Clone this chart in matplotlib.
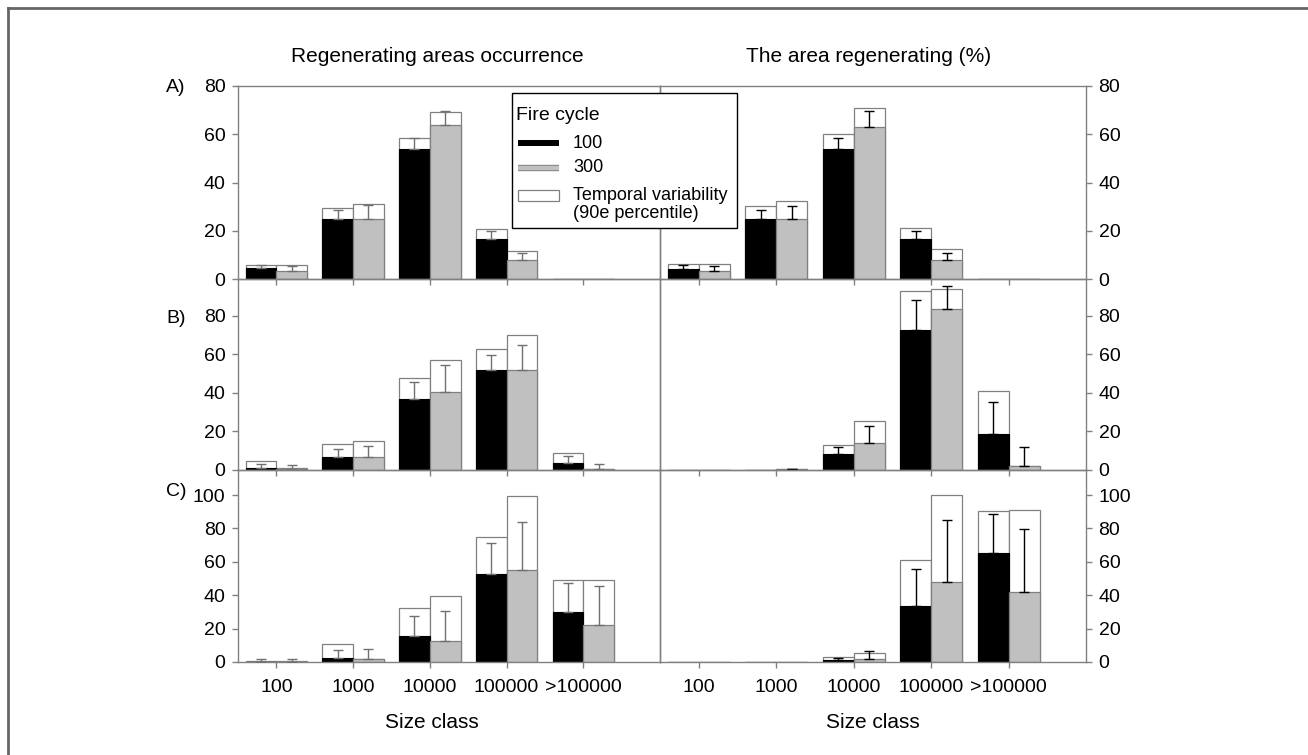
import matplotlib
matplotlib.use("Agg")
import matplotlib.pyplot as plt
import matplotlib.patheffects as pe
from matplotlib.lines import Line2D
from matplotlib.patches import Rectangle
import numpy as np

plt.rcParams['font.family'] = ['Liberation Sans', 'DejaVu Sans']

# ---------------- data ----------------
categories = ['100', '1000', '10000', '100000', '>100000']

# Row A - regenerating areas occurrence
A_occ_mean_100 = [4.6, 24.7, 53.8, 16.7, 0.2]
A_occ_err_100 = [5.8, 28.8, 58.3, 19.9, 0.2]
A_occ_p90_100 = [5.8, 29.4, 58.3, 20.6, 0.2]
A_occ_mean_300 = [3.2, 24.8, 63.7, 7.9, 0.0]
A_occ_err_300 = [5.2, 30.6, 69.8, 10.8, 0.0]
A_occ_p90_300 = [5.8, 31.0, 69.1, 11.6, 0.0]

# Row A - area regenerating (%)
A_area_mean_100 = [4.3, 24.7, 53.8, 16.7, 0.2]
A_area_err_100 = [5.8, 28.8, 58.3, 19.9, 0.2]
A_area_p90_100 = [6.2, 30.2, 60.0, 21.1, 0.2]
A_area_mean_300 = [3.2, 24.8, 63.2, 7.9, 0.0]
A_area_err_300 = [5.2, 30.2, 69.8, 10.8, 0.0]
A_area_p90_300 = [6.2, 32.3, 71.0, 12.3, 0.0]

# Row B - occurrence
B_occ_mean_100 = [1.2, 6.8, 36.9, 51.8, 3.6]
B_occ_err_100 = [2.9, 11.1, 45.5, 59.6, 7.1]
B_occ_p90_100 = [4.5, 13.7, 47.6, 62.7, 8.7]
B_occ_mean_300 = [0.7, 6.6, 40.3, 51.9, 0.5]
B_occ_err_300 = [2.4, 12.3, 54.4, 64.6, 2.9]
B_occ_p90_300 = [0.8, 14.9, 57.0, 70.0, 0.5]

# Row B - area
B_area_mean_100 = [0.0, 0.2, 8.3, 72.6, 18.6]
B_area_err_100 = [0.0, 0.2, 12.1, 88.1, 35.0]
B_area_p90_100 = [0.0, 0.2, 13.1, 92.8, 40.7]
B_area_mean_300 = [0.0, 0.3, 13.8, 83.4, 2.2]
B_area_err_300 = [0.0, 0.7, 22.9, 95.3, 11.7]
B_area_p90_300 = [0.0, 0.3, 25.2, 94.0, 2.2]

# Row C - occurrence
C_occ_mean_100 = [0.2, 2.2, 15.4, 53.0, 30.2]
C_occ_err_100 = [2.0, 7.0, 27.8, 71.4, 47.4]
C_occ_p90_100 = [0.3, 10.8, 32.6, 74.8, 49.4]
C_occ_mean_300 = [0.2, 2.0, 12.8, 55.4, 22.0]
C_occ_err_300 = [2.0, 8.0, 30.8, 84.0, 45.6]
C_occ_p90_300 = [0.3, 2.0, 39.8, 99.2, 49.4]

# Row C - area
C_area_mean_100 = [0.0, 0.0, 1.0, 33.5, 65.0]
C_area_err_100 = [0.0, 0.0, 2.4, 56.0, 88.4]
C_area_p90_100 = [0.0, 0.0, 3.0, 61.0, 90.2]
C_area_mean_300 = [0.0, 0.0, 2.0, 48.1, 41.7]
C_area_err_300 = [0.0, 0.0, 6.8, 84.8, 79.4]
C_area_p90_300 = [0.0, 0.0, 5.6, 99.8, 91.2]

row_labels = ['A)', 'B)', 'C)']
col_titles = ['Regenerating areas occurrence', 'The area regenerating (%)']
xlabel = 'Size class'
legend_title = 'Fire cycle'
legend_labels = ['100', '300', 'Temporal variability', '(90e percentile)']

panels = [
    [(A_occ_mean_100, A_occ_err_100, A_occ_p90_100, A_occ_mean_300, A_occ_err_300, A_occ_p90_300),
     (A_area_mean_100, A_area_err_100, A_area_p90_100, A_area_mean_300, A_area_err_300, A_area_p90_300)],
    [(B_occ_mean_100, B_occ_err_100, B_occ_p90_100, B_occ_mean_300, B_occ_err_300, B_occ_p90_300),
     (B_area_mean_100, B_area_err_100, B_area_p90_100, B_area_mean_300, B_area_err_300, B_area_p90_300)],
    [(C_occ_mean_100, C_occ_err_100, C_occ_p90_100, C_occ_mean_300, C_occ_err_300, C_occ_p90_300),
     (C_area_mean_100, C_area_err_100, C_area_p90_100, C_area_mean_300, C_area_err_300, C_area_p90_300)],
]
row_ylims = [(0, 80), (0, 99), (0, 115)]
row_yticks = [[0, 20, 40, 60, 80], [0, 20, 40, 60, 80], [0, 20, 40, 60, 80, 100]]

# ---------------- layout ----------------
W, H = 1308, 755
fig = plt.figure(figsize=(W / 100, H / 100), dpi=100)


def fx(x):
    return x / W


def fy(y):
    return 1 - y / H


rows_px = [(86, 279), (279, 470), (470, 662)]
cols_px = [(238, 660), (660, 1086)]

EDGE = '#808080'
GRAY = '#c0c0c0'
x = np.arange(len(categories))
bw = 0.4

for r, (t, b) in enumerate(rows_px):
    for c, (l, rr) in enumerate(cols_px):
        ax = fig.add_axes([fx(l), fy(b), (rr - l) / W, (b - t) / H])
        m1, e1, p1, m3, e3, p3 = map(np.array, panels[r][c])
        # temporal variability (90th percentile) boxes behind
        ax.bar(x - bw / 2, p1, bw, facecolor='white', edgecolor=EDGE, lw=0.9, zorder=1)
        ax.bar(x + bw / 2, p3, bw, facecolor='white', edgecolor=EDGE, lw=0.9, zorder=1)
        # mean bars
        ax.bar(x - bw / 2, m1, bw, facecolor='black', edgecolor='black', lw=0.8, zorder=2)
        ax.bar(x + bw / 2, m3, bw, facecolor=GRAY, edgecolor=EDGE, lw=0.9, zorder=2)
        ecol = '#707070' if c == 0 else 'black'
        for xs, mm, ee in ((x - bw / 2, m1, e1), (x + bw / 2, m3, e3)):
            sel = ee > mm
            if sel.any():
                yerr = np.vstack([np.zeros(sel.sum()), (ee - mm)[sel]])
                ax.errorbar(xs[sel], mm[sel], yerr=yerr, fmt='none', ecolor=ecol,
                            elinewidth=1.0, capsize=3.5, capthick=1.0, zorder=3)
        ax.set_xlim(-0.5, 5.0)
        ax.set_ylim(*row_ylims[r])
        ax.set_yticks(row_yticks[r])
        ax.set_xticks(x)
        if r == 2:
            ax.set_xticklabels(categories, fontsize=14)
        else:
            ax.set_xticklabels([])
        for s in ax.spines.values():
            s.set_color(EDGE)
            s.set_linewidth(1.0)
        ax.tick_params(axis='both', direction='out', length=4, width=1, colors=EDGE,
                       labelcolor='black', labelsize=14)
        ax.tick_params(axis='x', pad=8)
        if c == 1:
            ax.yaxis.tick_right()
            ax.tick_params(axis='y', pad=5)
        else:
            ax.tick_params(axis='y', pad=5)
        ax.set_facecolor('none')

# panel labels
for lab, yy in zip(row_labels, [87, 318, 492]):
    fig.text(fx(166), fy(yy), lab, fontsize=14, ha='left', va='center')

# column titles and x labels
for title, cx in zip(col_titles, [437, 869]):
    fig.text(fx(cx), fy(57), title, fontsize=15, ha='center', va='center')
for cx in [432, 873]:
    fig.text(fx(cx), fy(723), xlabel, fontsize=15, ha='center', va='center')

# legend (drawn as figure artists, on top of the axes)
tf = fig.transFigure
fig.add_artist(Rectangle((fx(512), fy(228)), (737 - 512) / W, (228 - 93) / H, transform=tf,
                         facecolor='white', edgecolor='black', lw=1.0, zorder=10))
fig.text(fx(516), fy(115), legend_title, fontsize=14, ha='left', va='center', zorder=11)
fig.add_artist(Line2D([fx(518), fx(559)], [fy(143)] * 2, transform=tf, color='black',
                      lw=4.3, solid_capstyle='butt', zorder=11))
fig.add_artist(Line2D([fx(518), fx(559)], [fy(168)] * 2, transform=tf, color=GRAY,
                      lw=3.2, solid_capstyle='butt', zorder=11,
                      path_effects=[pe.Stroke(linewidth=4.6, foreground=EDGE), pe.Normal()]))
fig.add_artist(Rectangle((fx(518), fy(201)), 41 / W, 11 / H, transform=tf,
                         facecolor='white', edgecolor=EDGE, lw=0.9, zorder=11))
for lab, yy in zip(legend_labels, [143, 168, 195, 213]):
    fig.text(fx(573), fy(yy), lab, fontsize=13, ha='left', va='center', zorder=11)

# outer border (top and left)
fig.add_artist(Line2D([fx(8), 1], [fy(8), fy(8)], transform=tf, color='#666666', lw=2))
fig.add_artist(Line2D([fx(8), fx(8)], [fy(8), 0], transform=tf, color='#666666', lw=2))

fig.savefig('out.png', dpi=100)
